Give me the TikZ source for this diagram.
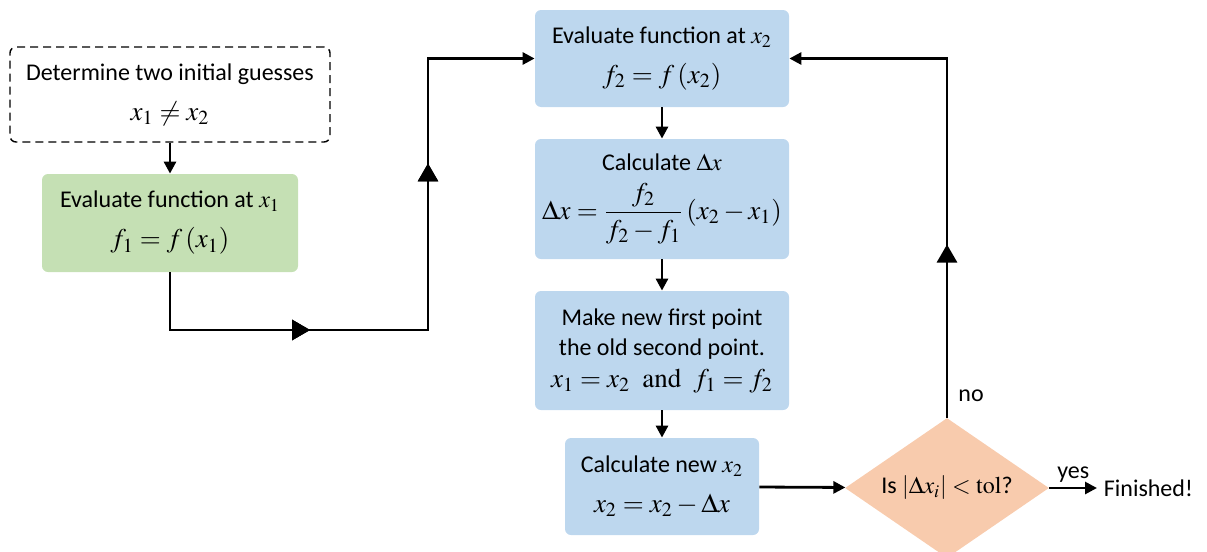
\documentclass[tikz,border=0pt]{standalone}
\usepackage{mathptmx}
\usepackage{amsmath}
\usepackage[no-math]{fontspec}
\setmainfont{Carlito}
\usetikzlibrary{arrows.meta,positioning,shapes.geometric,decorations.markings}
\definecolor{boxgreen}{HTML}{C5E0B4}
\definecolor{boxblue}{HTML}{BDD7EE}
\definecolor{boxorange}{HTML}{F8CBAD}
\newcommand{\eqn}[1]{{\fontsize{13.5}{16}\selectfont$#1$}}
\tikzset{
  box/.style={rounded corners=3pt, align=center, font=\fontsize{12}{15}\selectfont, inner sep=2pt, minimum width=127pt, minimum height=48.5pt},
  startbox/.style={box, draw, dash pattern=on 4pt off 2.5pt, line width=0.7pt, minimum width=160pt, minimum height=47.5pt},
  greenbox/.style={box, fill=boxgreen, minimum width=128pt, minimum height=49pt},
  bluebox/.style={box, fill=boxblue},
  test/.style={diamond, fill=boxorange, inner sep=0pt, minimum width=102pt, minimum height=70pt, shape aspect=1.46, font=\fontsize{12}{15}\selectfont},
  plain/.style={font=\fontsize{12}{15}\selectfont, inner sep=1pt},
  flow/.style={-{Triangle[length=6pt,width=6pt]}, line width=1.4pt},
  midhead/.style={postaction={decorate}, decoration={markings, mark=at position #1 with {\arrow{Triangle[length=9pt,width=10pt]}}}}
}
\begin{document}
\begin{tikzpicture}[x=0.5pt,y=-0.5pt]
\useasboundingbox (0,0) rectangle (1207,552);
\node[startbox] (init) at (170,94.5) {Determine two initial guesses\\[5pt]\eqn{x_1 \neq x_2}};
\node[greenbox] (evalA) at (170,223) {Evaluate function at $x_1$\\[5pt]\eqn{f_1 = f\left(x_1\right)}};
\node[bluebox] (evalB) at (662,58.5) {Evaluate function at $x_2$\\[5pt]\eqn{f_2 = f\left(x_2\right)}};
\node[bluebox, minimum height=60pt] (dx) at (662,199) {Calculate $\Delta x$\\[5pt]\eqn{\Delta x = \dfrac{f_2}{f_2 - f_1}\left(x_2 - x_1\right)}};
\node[bluebox, minimum height=59.5pt] (swap) at (662,350.5) {Make new first point\\the old second point.\\[1pt]\eqn{x_1 = x_2\ \ \mathrm{and}\ \ f_1 = f_2}};
\node[bluebox, minimum width=97pt] (newx) at (662,486.5) {Calculate new $x_2$\\[5pt]\eqn{x_2 = x_2 - \Delta x}};
\node[test] (check) at (947,488) {Is $|\Delta x_i| < \mathrm{tol}$?};
\node[plain, anchor=west, inner sep=3.25pt] (done) at (1097,488) {Finished!};
\coordinate (bend) at (428,330);
\draw[flow] (init) -- (evalA);
\draw[flow, midhead=0.285, midhead=0.695] (evalA.south) |- (bend) |- (evalB.west);
\foreach \u/\v in {evalB/dx,dx/swap,swap/newx} {\draw[flow] (\u) -- (\v);}
\draw[flow] (newx) -- (check);
\draw[flow] (check) -- node[plain, above=1pt] {yes} (done);
\draw[flow, midhead=0.335] (check.north) |- node[plain, pos=0.03, right=4pt] {no} (evalB.east);
\end{tikzpicture}
\end{document}
